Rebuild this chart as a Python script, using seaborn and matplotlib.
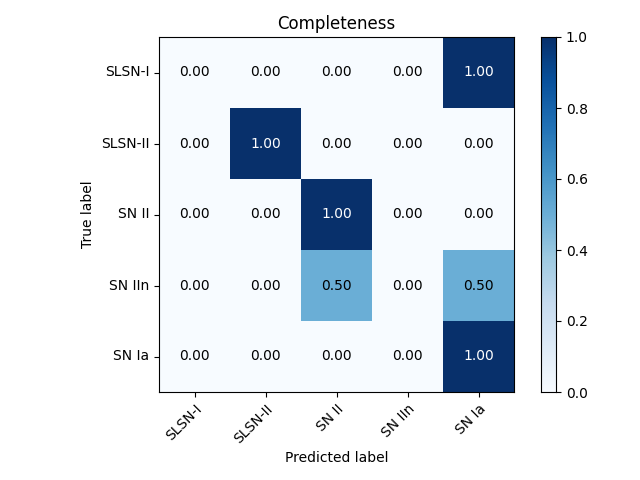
import matplotlib
matplotlib.use("Agg")
import matplotlib.pyplot as plt
import numpy as np
import seaborn as sns

classes = ["SLSN-I", "SLSN-II", "SN II", "SN IIn", "SN Ia"]
completeness = np.array([
    [0.0, 0.0, 0.0, 0.0, 1.0],
    [0.0, 1.0, 0.0, 0.0, 0.0],
    [0.0, 0.0, 1.0, 0.0, 0.0],
    [0.0, 0.0, 0.5, 0.0, 0.5],
    [0.0, 0.0, 0.0, 0.0, 1.0],
])

fig = plt.figure(figsize=(6.4, 4.8), dpi=100)
ax = fig.add_axes([159 / 640, 88 / 480, 355 / 640, 355 / 480])
cax = fig.add_axes([541 / 640, 88 / 480, 15 / 640, 355 / 480])

sns.heatmap(completeness, ax=ax, cbar_ax=cax, cmap="Blues", vmin=0, vmax=1,
            xticklabels=classes, yticklabels=classes, annot=False)

thresh = completeness.max() / 2.0
for i in range(completeness.shape[0]):
    for j in range(completeness.shape[1]):
        val = completeness[i, j]
        ax.text(j + 0.5, i + 0.5, f"{val:.2f}", ha="center", va="center",
                color="white" if val > thresh else "black", fontsize=10)

for spine in ax.spines.values():
    spine.set_visible(True)
    spine.set_color("black")
    spine.set_linewidth(0.8)
cax.tick_params(labelsize=10)
for spine in cax.spines.values():
    spine.set_visible(True)

ax.set_title("Completeness", fontsize=12)
ax.set_xlabel("Predicted label")
ax.set_ylabel("True label")
plt.setp(ax.get_xticklabels(), rotation=45, ha="right", rotation_mode="anchor")
plt.setp(ax.get_yticklabels(), rotation=0)

fig.savefig("out.png", dpi=100)
